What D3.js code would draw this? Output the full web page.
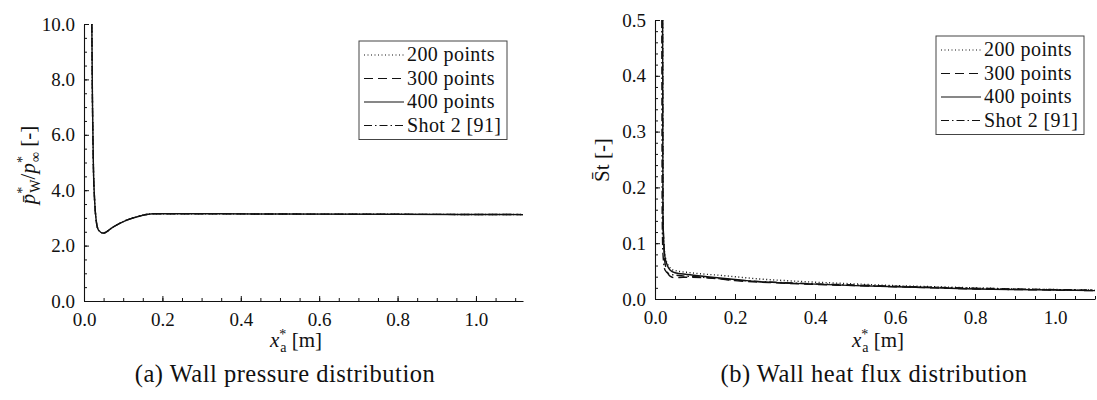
<!DOCTYPE html>
<html>
<head>
<meta charset="utf-8">
<script src="https://cdn.jsdelivr.net/npm/d3@7"></script>
<style>
  body { margin: 0; background: #fff; }
  svg { display: block; }
</style>
</head>
<body>
<svg id="chart" width="1097" height="400"></svg>
<script>
// series: [x (m), value]
const pressure200 = [[0.020,10],[0.0215,7.3],[0.024,4.84],[0.027,3.65],[0.031,2.92],[0.037,2.56],[0.049,2.45],[0.074,2.67],[0.109,2.92],[0.143,3.07],[0.176,3.15],[0.25,3.15],[0.5,3.14],[0.8,3.13],[1.12,3.12]];
const pressure300 = [[0.020,10],[0.0215,7.3],[0.024,4.84],[0.027,3.65],[0.031,2.92],[0.037,2.56],[0.049,2.45],[0.074,2.67],[0.109,2.92],[0.143,3.07],[0.176,3.15],[0.25,3.15],[0.5,3.14],[0.8,3.13],[1.12,3.12]];
const pressure400 = [[0.020,10],[0.0215,7.3],[0.024,4.84],[0.027,3.65],[0.031,2.92],[0.037,2.56],[0.049,2.45],[0.074,2.67],[0.109,2.92],[0.143,3.07],[0.176,3.15],[0.25,3.15],[0.5,3.14],[0.8,3.13],[1.12,3.12]];

const stanton200 = [[0.019,0.5],[0.0195,0.3],[0.020,0.15],[0.022,0.10],[0.026,0.075],[0.032,0.062],[0.045,0.052],[0.09,0.047],[0.17,0.042],[0.26,0.036],[0.35,0.032],[0.5,0.027],[0.6,0.024],[0.7,0.022],[0.8,0.020],[0.9,0.018],[1.0,0.017],[1.1,0.016]];
const stanton300 = [[0.019,0.5],[0.0195,0.3],[0.020,0.15],[0.022,0.10],[0.024,0.07],[0.030,0.050],[0.0375,0.041],[0.05,0.038],[0.07,0.039],[0.13,0.038],[0.2,0.033],[0.3,0.029],[0.5,0.024],[0.6,0.022],[0.7,0.020],[0.8,0.018],[0.9,0.017],[1.0,0.016],[1.1,0.015]];
const stanton400 = [[0.019,0.5],[0.0195,0.3],[0.020,0.15],[0.022,0.10],[0.025,0.075],[0.030,0.062],[0.0375,0.052],[0.05,0.047],[0.08,0.044],[0.13,0.040],[0.2,0.035],[0.26,0.031],[0.35,0.028],[0.5,0.024],[0.6,0.022],[0.7,0.020],[0.8,0.018],[0.9,0.017],[1.0,0.016],[1.1,0.015]];
const stantonShot2 = [[0.017,0.5],[0.0175,0.3],[0.018,0.15],[0.020,0.08],[0.025,0.052],[0.035,0.045],[0.06,0.042],[0.1,0.040],[0.2,0.034],[0.3,0.030],[0.5,0.025],[0.7,0.021],[0.9,0.018],[1.1,0.016]];

const legendLabels = ["200 points", "300 points", "400 points", "Shot 2 [91]"];
const legendDash = ["1,2.5", "9,5", null, "8,3,1.5,3"];

const xTicks = [0, 0.2, 0.4, 0.6, 0.8, 1.0];
const yTicksPressure = [0, 2, 4, 6, 8, 10];
const yTicksStanton = [0, 0.1, 0.2, 0.3, 0.4, 0.5];

const captions = ["(a) Wall pressure distribution", "(b) Wall heat flux distribution"];

const FONT = "'Liberation Serif', 'Times New Roman', serif";
const INK = "#111";

const svg = d3.select("#chart");

function drawPanel (cfg) {
    const x = d3.scaleLinear().domain(cfg.xDomain).range(cfg.xRange);
    const y = d3.scaleLinear().domain(cfg.yDomain).range(cfg.yRange);
    const g = svg.append("g");

    // minor ticks
    g.append("g")
        .attr("transform", `translate(0,${cfg.yRange[0]})`)
        .call(d3.axisBottom(x).tickValues(d3.range(0, cfg.xDomain[1] + 1e-9, 0.05)).tickSize(-3).tickFormat(""))
        .call(a => a.select(".domain").remove());
    g.append("g")
        .attr("transform", `translate(${cfg.xRange[0]},0)`)
        .call(d3.axisLeft(y).tickValues(d3.range(0, cfg.yDomain[1] + 1e-9, cfg.yMinor)).tickSize(-3).tickFormat(""))
        .call(a => a.select(".domain").remove());

    // major ticks + labels
    const xa = g.append("g")
        .attr("transform", `translate(0,${cfg.yRange[0]})`)
        .call(d3.axisBottom(x).tickValues(xTicks).tickSize(-5).tickSizeOuter(0).tickPadding(12).tickFormat(d3.format(".1f")));
    const ya = g.append("g")
        .attr("transform", `translate(${cfg.xRange[0]},0)`)
        .call(d3.axisLeft(y).tickValues(cfg.yTicks).tickSize(-5).tickSizeOuter(0).tickPadding(9).tickFormat(d3.format(".1f")));

    g.selectAll(".domain").attr("stroke", INK).attr("stroke-width", 1.1);
    g.selectAll(".tick line").attr("stroke", INK).attr("stroke-width", 1);
    [xa, ya].forEach(a => a.attr("font-family", FONT).attr("font-size", 19)
        .selectAll("text").attr("fill", INK));

    // curves
    const line = d3.line().x(d => x(d[0])).y(d => y(d[1])).curve(d3.curveMonotoneX);
    cfg.series.forEach((s, i) => {
        if (!s) return;
        g.append("path")
            .datum(s)
            .attr("fill", "none")
            .attr("stroke", INK)
            .attr("stroke-width", 1.4)
            .attr("stroke-dasharray", legendDash[i])
            .attr("d", line);
    });

    // legend
    const lg = g.append("g").attr("transform", `translate(${cfg.legend[0]},${cfg.legend[1]})`);
    const rowH = 23.5;
    lg.append("rect")
        .attr("x", 0).attr("y", 0)
        .attr("width", 148).attr("height", 20 + rowH * 3 + 8)
        .attr("fill", "#fff").attr("stroke", "#444").attr("stroke-width", 1);
    legendLabels.forEach((lab, i) => {
        const by = 20 + i * rowH;
        lg.append("line")
            .attr("x1", 5).attr("x2", 45)
            .attr("y1", by - 6).attr("y2", by - 6)
            .attr("stroke", INK).attr("stroke-width", 1.1)
            .attr("stroke-dasharray", legendDash[i]);
        lg.append("text")
            .attr("x", 48).attr("y", by)
            .attr("font-family", FONT).attr("font-size", 20)
            .attr("letter-spacing", 0.4)
            .attr("fill", INK)
            .text(lab);
    });

    // x title
    const xt = g.append("text")
        .attr("x", cfg.xTitleX).attr("y", 347)
        .attr("text-anchor", "middle")
        .attr("font-family", FONT).attr("font-size", 21).attr("fill", INK);
    xt.append("tspan").attr("font-style", "italic").text("x");
    xt.append("tspan").attr("font-size", 14).attr("dy", -8).text("*");
    xt.append("tspan").attr("font-size", 14).attr("dx", -6).attr("dy", 13).text("a");
    xt.append("tspan").attr("dy", -5).text(" [m]");

    // caption
    g.append("text")
        .attr("x", cfg.captionX).attr("y", 382)
        .attr("text-anchor", "middle")
        .attr("font-family", FONT).attr("font-size", 24.5)
        .attr("letter-spacing", 0.5)
        .attr("fill", INK)
        .text(cfg.caption);

    return g;
}

drawPanel({
    xDomain: [0, 1.12], xRange: [84, 523],
    yDomain: [0, 10], yRange: [301, 24], yTicks: yTicksPressure, yMinor: 0.5,
    series: [pressure200, pressure300, pressure400, null],
    legend: [359, 41], xTitleX: 296, captionX: 285, caption: captions[0]
});

drawPanel({
    xDomain: [0, 1.1], xRange: [655, 1095],
    yDomain: [0, 0.5], yRange: [299, 20], yTicks: yTicksStanton, yMinor: 0.02,
    series: [stanton200, stanton300, stanton400, stantonShot2],
    legend: [936, 36], xTitleX: 878, captionX: 874, caption: captions[1]
});

// y titles
const yl = svg.append("text")
    .attr("transform", "translate(35,165) rotate(-90)")
    .attr("text-anchor", "middle")
    .attr("font-family", FONT).attr("font-size", 21).attr("fill", INK);
yl.append("tspan").attr("font-style", "italic").text("p\u0304");
yl.append("tspan").attr("font-size", 14).attr("dy", -8).text("*");
yl.append("tspan").attr("font-size", 14).attr("dx", -6).attr("dy", 13).text("W");
yl.append("tspan").attr("dy", -5).text("/");
yl.append("tspan").attr("font-style", "italic").text("p");
yl.append("tspan").attr("font-size", 14).attr("dy", -8).text("*");
yl.append("tspan").attr("font-size", 14).attr("dx", -6).attr("dy", 13).text("\u221e");
yl.append("tspan").attr("dy", -5).text(" [-]");

svg.append("text")
    .attr("transform", "translate(609,160) rotate(-90)")
    .attr("text-anchor", "middle")
    .attr("font-family", FONT).attr("font-size", 21).attr("fill", INK)
    .text("S\u0304t [-]");
</script>
</body>
</html>
